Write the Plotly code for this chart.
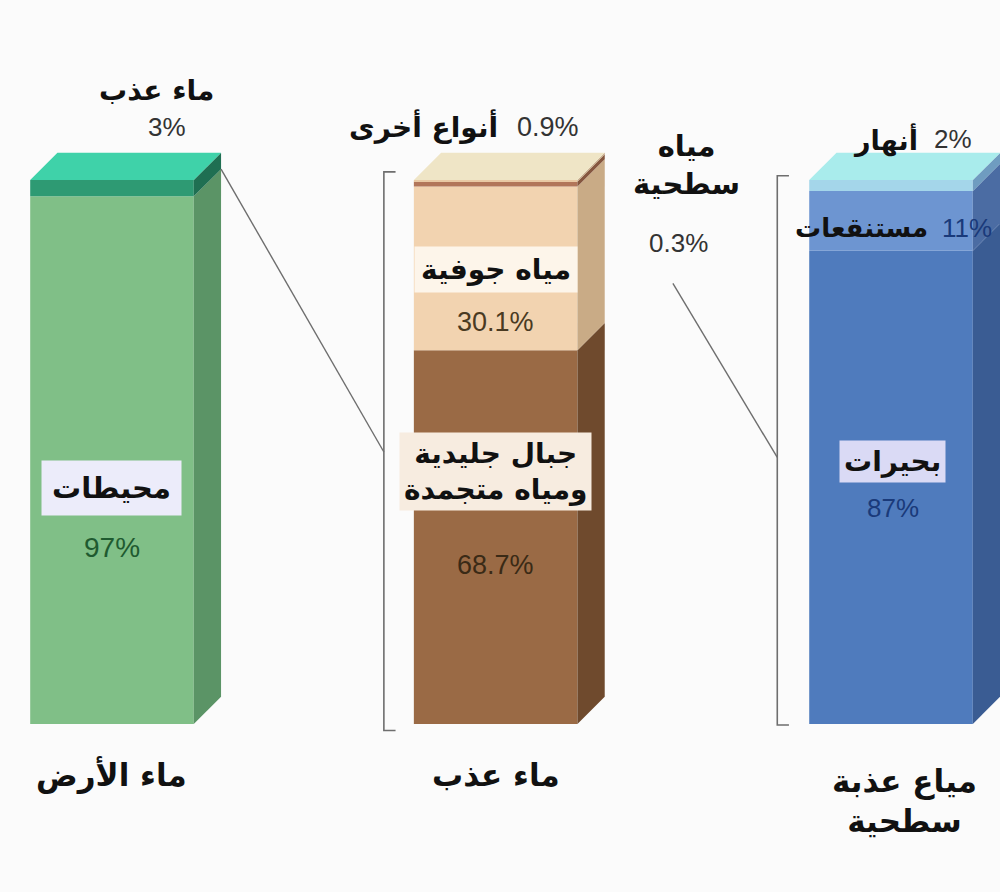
import plotly.graph_objects as go

# ---- data ----
categories = ["ماء الأرض", "ماء عذب", "مياع عذبة<br>سطحية"]
x_pos = [0, 0.985, 2]

earth_names = ["محيطات", "ماء عذب"]
earth_values = [97, 3]

fresh_names = ["جبال جليدية<br>ومياه متجمدة", "مياه جوفية", "أنواع أخرى", "مياه سطحية"]
fresh_values = [68.7, 30.1, 0.9, 0.3]

surface_names = ["بحيرات", "مستنقعات", "أنهار"]
surface_values = [87, 11, 2]

# ---- styling ----
BAR_W = 0.42
DX, DY = 0.07, 5.0          # depth offset of the pseudo-3D faces
AR_FONT = "DejaVu Sans"
NUM_FONT = "Liberation Sans"

stacks = [
    dict(values=earth_values,
         front=["#80bf87", "#2e9a73"],
         side=["#5b9466", "#1f6f52"],
         top="#3fd2a9"),
    dict(values=fresh_values,
         front=["#9a6a45", "#f2d3b0", "#b2765a", "#e9c9a4"],
         side=["#6f4a2d", "#c9ab86", "#86573f", "#c4a582"],
         top="#efe5c6"),
    dict(values=surface_values,
         front=["#4f7bbd", "#6d95d1", "#a4d6ea"],
         side=["#3a5c93", "#4b6ca3", "#6f9cc0"],
         top="#a9ecec"),
]

fig = go.Figure()

for xi, st in zip(x_pos, stacks):
    xl, xr = xi - BAR_W / 2, xi + BAR_W / 2
    base = 0
    for v, fc, sc in zip(st["values"], st["front"], st["side"]):
        fig.add_trace(go.Bar(x=[xi], y=[v], base=[base], width=BAR_W,
                             marker=dict(color=fc, line=dict(width=0)),
                             hoverinfo="skip"))
        # right-hand side face of this segment
        fig.add_trace(go.Scatter(
            x=[xr, xr + DX, xr + DX, xr, xr],
            y=[base, base + DY, base + v + DY, base + v, base],
            mode="lines", fill="toself", fillcolor=sc,
            line=dict(width=0, color=sc), hoverinfo="skip"))
        base += v
    # top face
    fig.add_trace(go.Scatter(
        x=[xl, xl + DX, xr + DX, xr, xl],
        y=[base, base + DY, base + DY, base, base],
        mode="lines", fill="toself", fillcolor=st["top"],
        line=dict(width=0, color=st["top"]), hoverinfo="skip"))

# ---- brackets and connector lines ----
LINE_C = "#6e6e6e"


def bracket(xb, y0, y1, tick=0.03):
    fig.add_trace(go.Scatter(x=[xb + tick, xb, xb, xb + tick],
                             y=[y1, y1, y0, y0], mode="lines",
                             line=dict(color=LINE_C, width=1.6),
                             hoverinfo="skip"))


b2_x = x_pos[1] - BAR_W / 2 - 0.077
b3_x = x_pos[2] - BAR_W / 2 - 0.082
bracket(b2_x, -1.2, 101.5)
bracket(b3_x, -0.2, 100.8)

# connector: fresh-water segment of the first bar -> bracket of the second bar
fig.add_trace(go.Scatter(x=[x_pos[0] + BAR_W / 2 + DX, b2_x],
                         y=[earth_values[0] + DY, 50], mode="lines",
                         line=dict(color=LINE_C, width=1.4), hoverinfo="skip"))
# connector: surface-water label -> bracket of the third bar
fig.add_trace(go.Scatter(x=[1.44, b3_x], y=[81, 49], mode="lines",
                         line=dict(color=LINE_C, width=1.4), hoverinfo="skip"))

# ---- text ----
anns = []


def ann(x, y, text, size, color="#111111", bold=True, font=AR_FONT,
        bg=None, pad=4, xanchor="center"):
    d = dict(x=x, y=y, xref="x", yref="y", showarrow=False,
             text=f"<b>{text}</b>" if bold else text, xanchor=xanchor,
             font=dict(family=font, size=size, color=color))
    if bg:
        d.update(bgcolor=bg, borderpad=pad)
    anns.append(d)


# first bar
ann(x_pos[0], 43.4, earth_names[0], 29, bg="#ececfa", pad=10)
ann(x_pos[0], 32.4, f"{earth_values[0]}%", 28, "#1f5a30", False, NUM_FONT)
ann(0.115, 116.5, earth_names[1], 28)
ann(0.14, 109.7, f"{earth_values[1]}%", 26, "#333333", False, NUM_FONT)

# second bar
ann(x_pos[1], 83.5, fresh_names[1], 28, bg="#fdf5ea", pad=6)
ann(x_pos[1], 73.9, f"{fresh_values[1]}%", 27, "#4a3a22", False, NUM_FONT)
ann(x_pos[1], 46.5, fresh_names[0], 28, bg="#f7ece0")
ann(x_pos[1], 29.2, f"{fresh_values[0]}%", 27, "#3a2a16", False, NUM_FONT)
ann(0.80, 109.9, fresh_names[2], 28)
ann(1.12, 109.7, f"{fresh_values[2]}%", 27, "#333333", False, NUM_FONT)
ann(1.475, 102.8, "مياه<br>سطحية", 29)
ann(1.455, 88.4, f"{fresh_values[3]}%", 26, "#333333", False, NUM_FONT)

# third bar
ann(x_pos[2] + 0.005, 48.2, surface_names[0], 28, bg="#dadaf5")
ann(x_pos[2] + 0.005, 39.7, f"{surface_values[0]}%", 26, "#1a3a7a", False, NUM_FONT)
ann(1.925, 91.2, surface_names[1], 26)
ann(2.195, 91.2, f"{surface_values[1]}%", 26, "#1a3a7a", False, NUM_FONT)
ann(1.985, 107.3, surface_names[2], 27)
ann(2.16, 107.6, f"{surface_values[2]}%", 26, "#333333", False, NUM_FONT)

# category names under the bars
ann(x_pos[0], -9.4, categories[0], 31)
ann(x_pos[1], -9.4, categories[1], 31)
ann(x_pos[2] + 0.035, -14.2, categories[2], 31)

fig.update_layout(
    width=1000, height=892,
    margin=dict(l=0, r=0, t=0, b=0),
    paper_bgcolor="#fbfbfb", plot_bgcolor="#fbfbfb",
    barmode="overlay", showlegend=False,
    xaxis=dict(range=[-0.2875, 2.2798], visible=False, fixedrange=True),
    yaxis=dict(range=[-30.9, 133.1], visible=False, fixedrange=True),
    annotations=anns,
)

fig.write_html("out.html")
